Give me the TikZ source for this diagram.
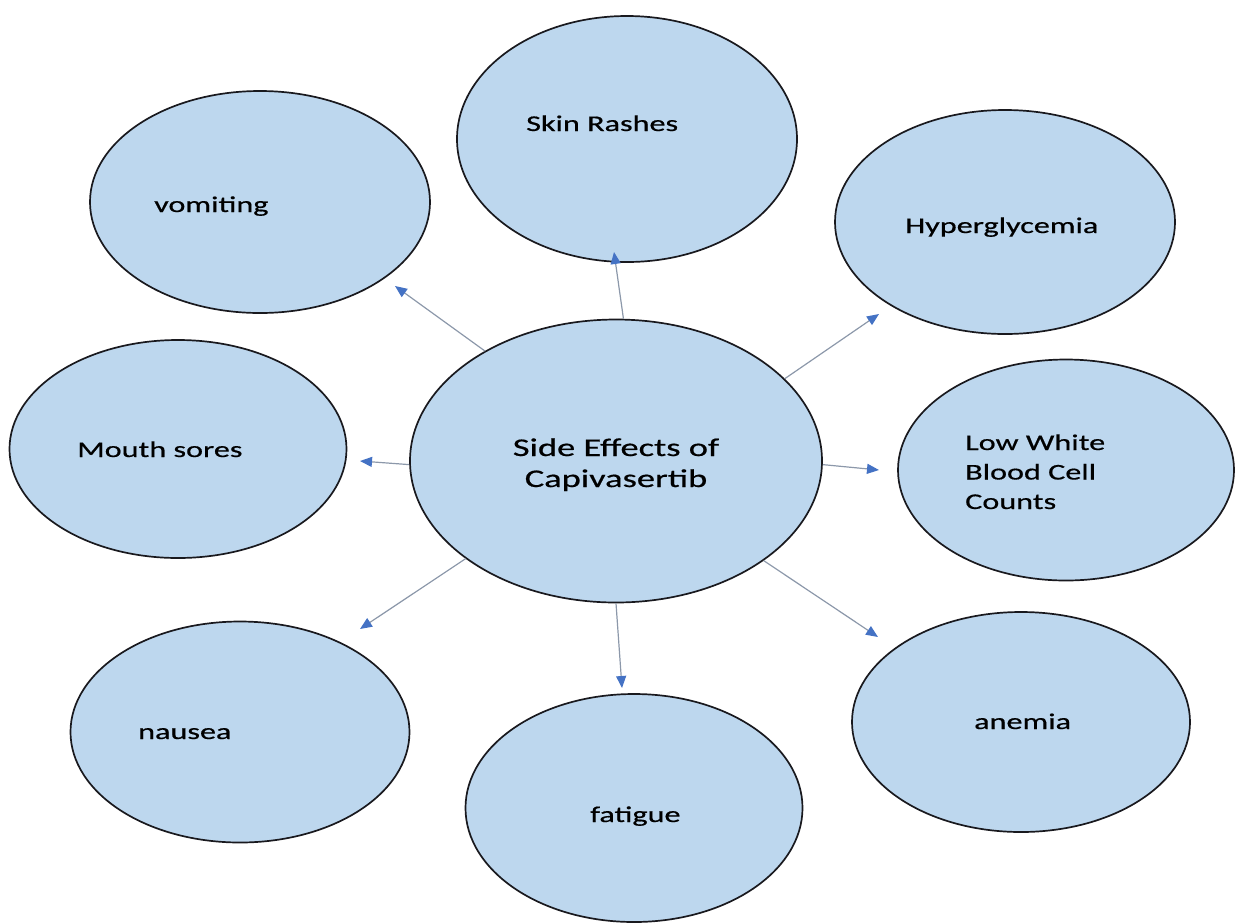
\documentclass[tikz,border=0pt]{standalone}
\usepackage{fontspec}
\setmainfont{Carlito}[FakeStretch=1.43,FakeBold=0.6]
\usetikzlibrary{shapes.geometric,arrows.meta}
\definecolor{bubble}{RGB}{189,215,238}
\definecolor{edge}{RGB}{25,25,30}
\definecolor{linegray}{RGB}{140,152,170}
\definecolor{tipblue}{RGB}{68,114,196}
\tikzset{
  bub/.style={ellipse, draw=edge, line width=1.7pt, fill=bubble, inner sep=0pt},
  lbl/.style={anchor=base west, inner sep=0pt, text=black, font=\fontsize{22.5}{29.5}\selectfont, align=left},
  arr/.style={draw=linegray, line width=1.2pt, -{Triangle[length=12pt,width=10pt,color=tipblue]}}
}
\begin{document}
\begin{tikzpicture}[x=1pt,y=-1pt]
\useasboundingbox (0,0) rectangle (1239,922);
% bubbles
\node[bub, minimum width=340pt, minimum height=246pt] (skin) at (627,139) {};
\node[bub, minimum width=340pt, minimum height=222pt] (vom) at (260,202) {};
\node[bub, minimum width=340pt, minimum height=224pt] (hyp) at (1005,222) {};
\node[bub, minimum width=337pt, minimum height=218pt] (mouth) at (178,449) {};
\node[bub, minimum width=336pt, minimum height=221pt] (low) at (1066,470) {};
\node[bub, minimum width=339pt, minimum height=221pt] (naus) at (240,732) {};
\node[bub, minimum width=337pt, minimum height=228pt] (fat) at (634,808) {};
\node[bub, minimum width=338pt, minimum height=220pt] (anem) at (1021,722) {};
\node[bub, minimum width=412pt, minimum height=283pt] (c) at (616,461) {};
% labels
\node[lbl] (tskin) at (526,131) {Skin Rashes};
\node[lbl] (tvom) at (154,212) {vomiting};
\node[lbl] (thyp) at (905,233) {Hyperglycemia};
\node[lbl] (tmouth) at (77,457) {Mouth sores};
\node[lbl] (tlow) at (965,509) {Low White\\Blood Cell\\Counts};
\node[lbl] (tnaus) at (138,739) {nausea};
\node[lbl] (tfat) at (590,822) {fatigue};
\node[lbl] (tanem) at (974,729) {anemia};
\node[lbl, anchor=base, align=center, font=\fontsize{25.5}{31}\selectfont] (tc) at (616,487) {Side Effects of\\Capivasertib};
% arrow tips
\coordinate (avom) at (395,286);
\coordinate (askin) at (614,252);
\coordinate (ahyp) at (879,314);
\coordinate (amouth) at (360,461);
\coordinate (alow) at (879,470);
\coordinate (anaus) at (360,629);
\coordinate (afat) at (622,688);
\coordinate (aanem) at (878,637);
% arrows
\draw[arr] (c.140.9) -- (avom);
\draw[arr] (c.87.7) -- (askin);
\draw[arr] (c.26.6) -- (ahyp);
\draw[arr] (c.181) -- (amouth);
\draw[arr] (c.-1.1) -- (alow);
\draw[arr] (c.213.2) -- (anaus);
\draw[arr] (c.270.8) -- (afat);
\draw[arr] (c.-34.5) -- (aanem);
\end{tikzpicture}
\end{document}
